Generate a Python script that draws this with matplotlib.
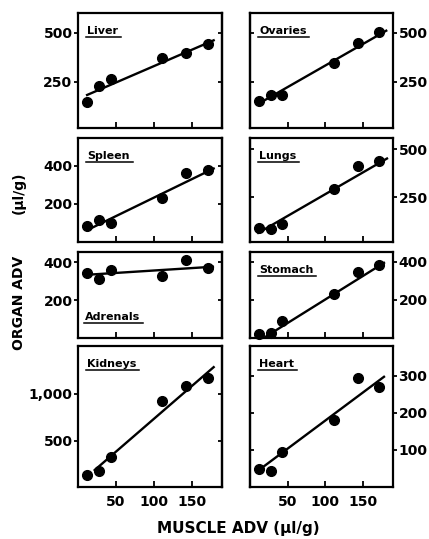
import numpy as np
import matplotlib.pyplot as plt

plt.rcParams['font.family'] = 'DejaVu Sans'
plt.rcParams['font.weight'] = 'bold'

# muscle ADV (x) shared by every panel
muscle = [12, 28, 43, 111, 143, 172]

liver = [149, 228, 262, 373, 399, 444]
ovaries = [150, 181, 181, 348, 445, 504]
spleen = [82, 117, 102, 230, 360, 377]
lungs = [91, 86, 115, 296, 413, 436]
adrenals = [345, 310, 359, 329, 412, 369]
stomach = [19, 28, 88, 232, 347, 386]
kidneys = [138, 181, 333, 926, 1088, 1167]
heart = [48, 43, 93, 181, 293, 270]

# regression line end points (x0, x1, y0, y1)
liver_fit = (12, 179, 183, 461)
ovaries_fit = (12, 181, 140, 510)
spleen_fit = (13, 179, 64, 385)
lungs_fit = (11, 182, 67, 451)
adrenals_fit = (10, 178, 334, 377)
stomach_fit = (12, 178, -15, 395)
kidneys_fit = (22, 179, 190, 1285)
heart_fit = (18, 178, 55, 297)

x_ticks = [50, 100, 150]

panels = [
    ("Liver", liver, liver_fit, (15, 600), [250, 500], ["250", "500"]),
    ("Ovaries", ovaries, ovaries_fit, (15, 600), [250, 500], ["250", "500"]),
    ("Spleen", spleen, spleen_fit, (0, 545), [200, 400], ["200", "400"]),
    ("Lungs", lungs, lungs_fit, (20, 557), [250, 500], ["250", "500"]),
    ("Adrenals", adrenals, adrenals_fit, (0, 455), [200, 400], ["200", "400"]),
    ("Stomach", stomach, stomach_fit, (0, 452), [200, 400], ["200", "400"]),
    ("Kidneys", kidneys, kidneys_fit, (10, 1510), [500, 1000], ["500", "1,000"]),
    ("Heart", heart, heart_fit, (0, 380), [100, 200, 300], ["100", "200", "300"]),
]

W, H = 429, 539
fig = plt.figure(figsize=(W / 100, H / 100), dpi=100)

cols = [(78, 144), (250, 143)]
rows = [(13, 128), (138, 242), (252, 338), (346, 487)]

labels = []
for i, (name, y, fit, ylim, yt, ytl) in enumerate(panels):
    r, c = i // 2, i % 2
    x0, w = cols[c]
    top, bot = rows[r]
    ax = fig.add_axes([x0 / W, 1 - bot / H, w / W, (bot - top) / H])
    ax.plot([fit[0], fit[1]], [fit[2], fit[3]], color='black', lw=1.7)
    ax.plot(muscle, y, 'o', color='black', ms=7, clip_on=False)
    ax.set_xlim(0, 190)
    ax.set_ylim(*ylim)
    for s in ax.spines.values():
        s.set_linewidth(1.6)

    ax.set_xticks(x_ticks)
    ax.tick_params(axis='x', direction='in', length=4, width=1.3,
                   labelbottom=(r == 3), labelsize=10, pad=6)
    ax.set_yticks(yt)
    ax.set_yticklabels(ytl)
    # labelled side: outward ticks; other side: inward ticks
    side = 'right' if c == 1 else 'left'
    other = 'left' if c == 1 else 'right'
    ax.yaxis.set_ticks_position(side)
    ax.tick_params(axis='y', direction='out', length=3, width=1.3,
                   labelsize=10, pad=1)
    sec = ax.secondary_yaxis(other)
    sec.set_yticks(yt)
    sec.tick_params(axis='y', direction='in', length=3, width=1.3,
                    labelleft=False, labelright=False)
    sec.spines[other].set_linewidth(1.6)

    if name == "Adrenals":
        t = ax.annotate(name, xy=(0, 0), xycoords='axes fraction',
                        xytext=(7, 18), textcoords='offset pixels',
                        fontsize=8, fontweight='bold', va='baseline')
    else:
        t = ax.annotate(name, xy=(0, 1), xycoords='axes fraction',
                        xytext=(9, -21), textcoords='offset pixels',
                        fontsize=8, fontweight='bold', va='baseline')
    labels.append((ax, t))

fig.text(19 / W, 1 - 303 / H, "ORGAN ADV", rotation=90,
         ha='center', va='center', fontsize=10, fontweight='bold')
fig.text(19 / W, 1 - 193 / H, "(\u00b5l/g)", rotation=90,
         ha='center', va='center', fontsize=10, fontweight='bold')
fig.text(238 / W, 1 - 529 / H, "MUSCLE ADV (\u00b5l/g)",
         ha='center', va='center', fontsize=11, fontweight='bold')

fig.canvas.draw()
renderer = fig.canvas.get_renderer()
for ax, t in labels:
    bb = t.get_window_extent(renderer)
    tx, ty = t.get_position()
    base = ax.transAxes.transform(t.xy)[1] + ty
    inv = ax.transAxes.inverted()
    p0 = inv.transform((bb.x0 - 1, base - 3))
    p1 = inv.transform((bb.x1 + 3, base - 3))
    ax.plot([p0[0], p1[0]], [p0[1], p1[1]], transform=ax.transAxes,
            color='black', lw=1.1, clip_on=False)

fig.savefig("out.png", dpi=100)
